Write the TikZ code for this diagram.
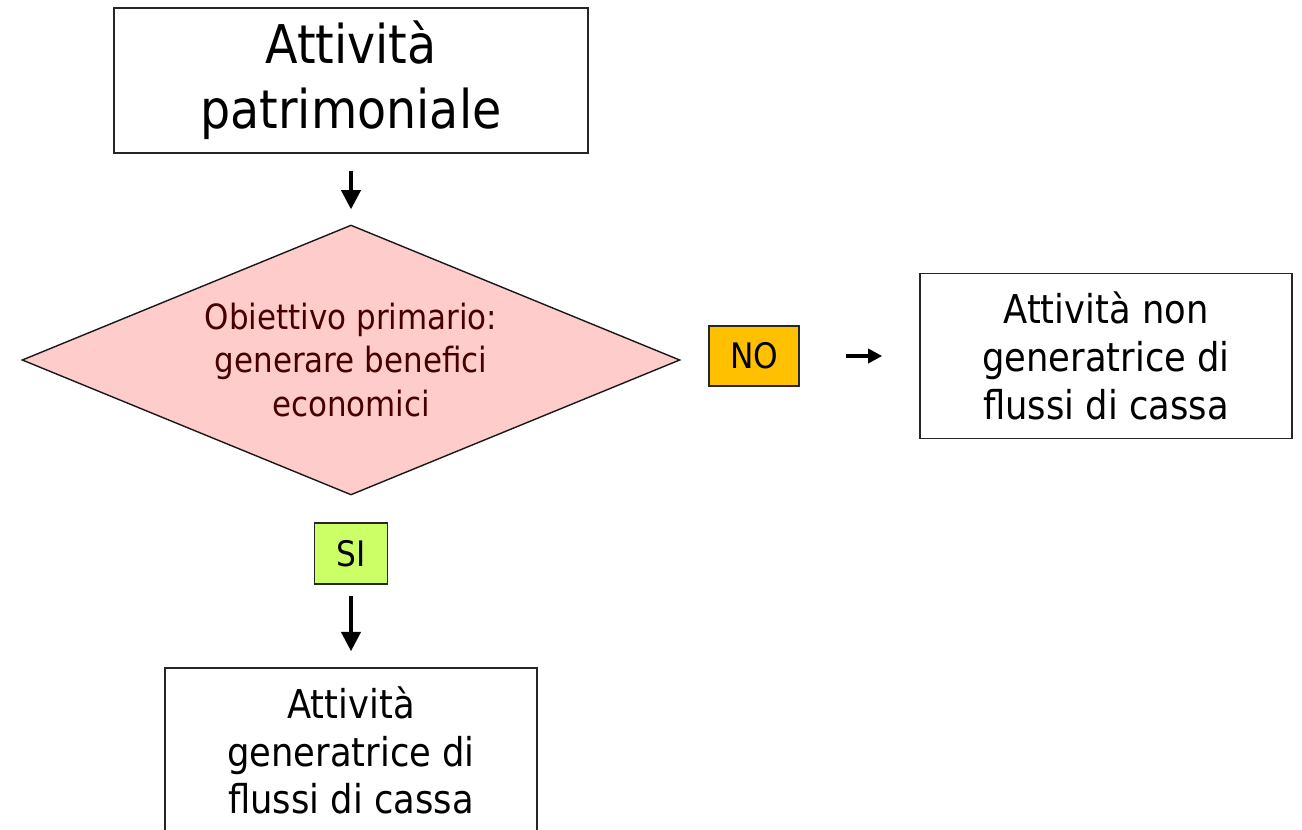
\documentclass[tikz,border=0pt]{standalone}
\usepackage{fontspec}
\setmainfont{DejaVu Sans}[FakeStretch=0.89]
\usepackage{xcolor}
\usetikzlibrary{positioning, arrows.meta, shapes.geometric}
\definecolor{rosa}{RGB}{255,204,204}
\definecolor{scuro}{RGB}{70,0,0}
\definecolor{arancio}{RGB}{255,192,0}
\definecolor{verdino}{RGB}{204,255,102}

\begin{document}
\begin{tikzpicture}[x=0.02cm,y=-0.02cm,
  box/.style={draw=black!85, line width=1pt, fill=white, align=center, inner sep=0pt},
  bigtext/.style={font=\fontsize{30.4}{36.8}\selectfont},
  midtext/.style={font=\fontsize{22.6}{27.2}\selectfont},
  tag/.style={draw=black!85, line width=0.9pt, minimum width=1.8cm, minimum height=1.2cm,
              inner sep=0pt, font=\fontsize{20}{24}\selectfont},
  arr/.style={-{Triangle[length=11pt, width=11pt]}, line width=2pt}]

  \useasboundingbox (0,0) rectangle (1302,829);
  \clip (0,0) rectangle (1302,829);

  %% Top box
  \node[box, bigtext, minimum width=9.48cm, minimum height=2.9cm] (patr) at (351,80.5)
    {Attività\\patrimoniale};

  %% Decision
  \node[diamond, draw=black!90, line width=0.8pt, fill=rosa, aspect=2.437, inner sep=0pt,
        minimum width=13.16cm, minimum height=5.4cm, align=center, text=scuro,
        font=\fontsize{19.8}{24.6}\selectfont] (obiet) at (351,360)
    {Obiettivo primario:\\generare benefici\\economici};

  %% Outcomes
  \node[tag, fill=arancio] (no) at (754,356) {NO};
  \node[box, midtext, minimum width=7.44cm, minimum height=3.3cm] (nongen) at (1106,356)
    {Attività non\\generatrice di\\flussi di cassa};

  \node[tag, fill=verdino, minimum width=1.46cm, minimum height=1.22cm] (si) at (351,553.5) {SI};
  \node[box, midtext, minimum width=7.44cm, minimum height=3.3cm] (gen) at (351,750.5)
    {Attività\\generatrice di\\flussi di cassa};

  %% Arrows
  \draw[arr] ([yshift=-17*0.02cm]patr.south) -- ([yshift=15*0.02cm]obiet.north);
  \draw[arr, -{Triangle[length=8pt, width=8pt]}] ([xshift=46*0.02cm]no.east) -- ([xshift=-37*0.02cm]nongen.west);
  \draw[arr] ([yshift=-11*0.02cm]si.south) -- ([yshift=16*0.02cm]gen.north);
\end{tikzpicture}
\end{document}
